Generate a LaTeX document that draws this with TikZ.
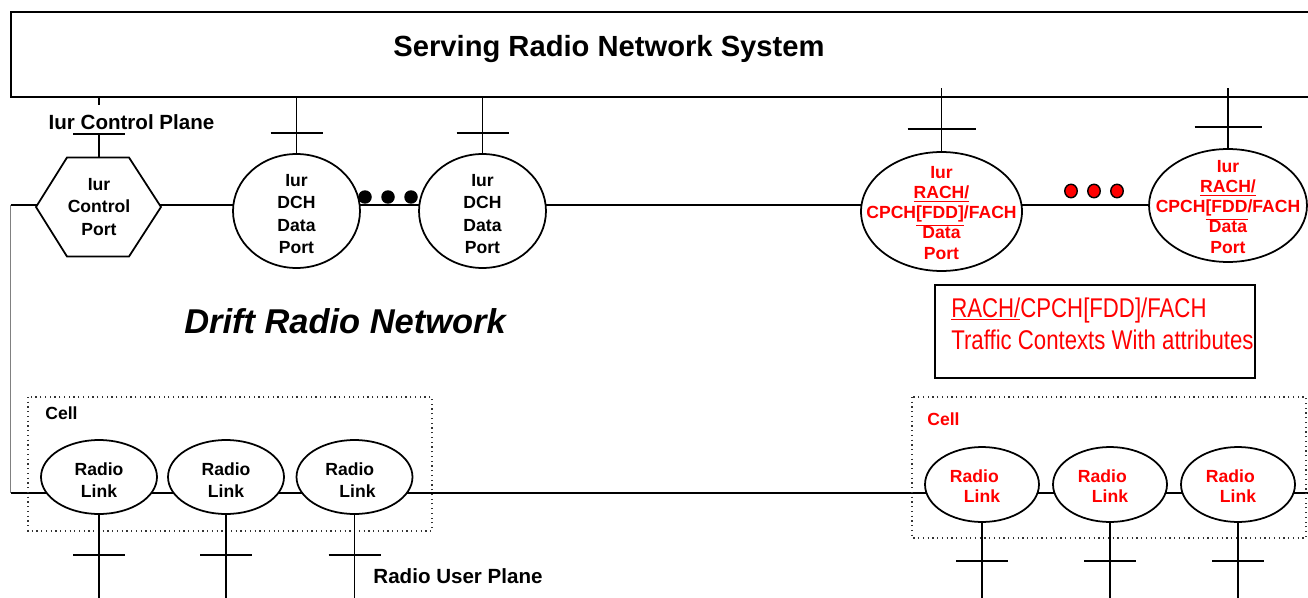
\documentclass[tikz,border=0pt]{standalone}
\usepackage{fontspec}
\setmainfont{Liberation Sans}
\newfontfamily\ctxfont[FakeStretch=0.82]{Liberation Sans}
\usetikzlibrary{shapes.geometric, calc}

\tikzset{
  wire/.style={line width=1pt},
  port/.style={draw, ellipse, line width=1pt, fill=white, inner sep=0pt},
  dchport/.style={port, minimum width=2.54cm, minimum height=2.28cm},
  rachport/.style={port, minimum width=3.22cm, minimum height=2.38cm},
  linkport/.style={port, minimum width=2.32cm, minimum height=1.48cm},
  rlinkport/.style={port, minimum width=2.28cm, minimum height=1.5cm},
  lbl/.style={font=\fontsize{10}{12.8}\selectfont\bfseries, align=center, inner sep=0pt},
  redlbl/.style={lbl, text=red, font=\fontsize{10}{11.4}\selectfont\bfseries},
  planelbl/.style={font=\fontsize{11.7}{14}\selectfont\bfseries, inner sep=0pt},
  moredot/.style={circle, fill=black, minimum size=0.27cm, inner sep=0pt},
  redmoredot/.style={ellipse, draw=black, line width=0.8pt, fill=red, minimum width=0.25cm, minimum height=0.27cm, inner sep=0pt},
  cellbox/.style={draw=black!80, dotted, line width=0.7pt},
}

\begin{document}
\begin{tikzpicture}[x=0.02cm, y=-0.02cm]
  \useasboundingbox (0,0) rectangle (1308,598);

  % Serving system
  \draw[line width=1.2pt] (10.7,12) rectangle (1320,97);
  \coordinate (boxbot) at (0,97);
  \coordinate (stubtop) at (0,88);
  \coordinate (bottom) at (0,600);
  \coordinate (barL) at (0,555);
  \coordinate (barR) at (0,561);
  \node[font=\fontsize{16.6}{20}\selectfont\bfseries, inner sep=0pt] (srns) at (609,49) {Serving Radio Network System};

  % Iur and radio lines
  \coordinate (mainW) at (10.7,205);
  \coordinate (mainE) at (1320,205);
  \coordinate (lowW) at (10.7,493);
  \coordinate (lowE) at (1320,493);
  \draw[wire] (mainW) -- (mainE);
  \draw[wire] (lowW) -- (lowE);
  \draw[gray, line width=0.6pt] (mainW) -- (lowW);

  % Control port
  \coordinate (ctlc) at (99,207);
  \draw[wire, fill=white] (ctlc) ++(-63,0) -- ++(31,-49.5) -- ++(62,0) -- ++(32,49.5)
    -- ++(-32,49.5) -- ++(-62,0) -- cycle;
  \node[lbl] (ctl) at (ctlc) {Iur\\Control\\Port};
  \coordinate (ctlN) at ($(ctlc)+(0,-49.5)$);
  \draw[wire] (ctlN) -- ++(0,-23.5);
  \draw[wire] ($(ctlN)+(-26,-23.5)$) -- ++(52,0);
  \draw[wire] (ctlN |- boxbot) -- ++(0,8);
  \node[planelbl] (cplane) at (131.5,122) {Iur Control Plane};

  % DCH data ports
  \node[dchport] (dch1) at (296.5,211) {};
  \node[dchport] (dch2) at (482.5,211) {};
  \node[lbl] (dch1t) at ($(dch1)+(0,3)$) {Iur\\DCH\\Data\\Port};
  \node[lbl] (dch2t) at ($(dch2)+(0,3)$) {Iur\\DCH\\Data\\Port};
  \foreach \p in {dch1,dch2} {
    \draw[wire] (\p.north) -- (\p.north |- boxbot);
    \draw[wire] ($(\p.north)+(-26,-20)$) -- ++(52,0);
  }
  \foreach \x/\n in {365/1,388/2,411/3}
    \node[moredot] (dd\n) at (\x,197) {};

  % RACH/CPCH/FACH data ports
  \node[rachport] (rach1) at (941.5,211.5) {};
  \node[port, minimum width=3.16cm, minimum height=2.26cm] (rach2) at (1228,205.5) {};
  \node[redlbl] (rach1t) at ($(rach1)+(0,1.5)$) {Iur\\\underline{RACH/}\\CPCH\underline{[FDD]}/FACH\\Data\\Port};
  \node[redlbl] (rach2t) at ($(rach2)+(0,1.5)$) {Iur\\\underline{RACH/}\\CPCH\underline{[FDD}/FACH\\Data\\Port};
  \draw[wire] (rach1.north) -- (rach1.north |- stubtop);
  \draw[wire] ($(rach1.north)+(-34,-22)$) -- ++(68,0);
  \draw[wire] (rach2.north) -- (rach2.north |- stubtop);
  \draw[wire] ($(rach2.north)+(-33.5,-21)$) -- ++(67,0);
  \foreach \x/\n in {1071/1,1094/2,1117/3}
    \node[redmoredot] (rd\n) at (\x,191) {};

  % traffic contexts
  \draw[line width=1.2pt] (935,285) rectangle (1255,378);
  \node[font=\ctxfont\fontsize{15.4}{18}\selectfont, text=red, anchor=base west, inner sep=0pt] (ctx1) at (951,317) {\underline{RACH/}CPCH[FDD]/FACH};
  \node[font=\ctxfont\fontsize{15.4}{18}\selectfont, text=red, anchor=base west, inner sep=0pt] (ctx2) at (951,349) {Traffic Contexts With attributes};

  \node[font=\fontsize{19.6}{24}\selectfont\bfseries\itshape, inner sep=0pt] (drn) at (345,321) {Drift Radio Network};

  % Cells
  \draw[cellbox] (28,397) rectangle (432,531);
  \node[lbl] (cellL) at (61.5,413) {Cell};
  \draw[cellbox] (912,397) rectangle (1306,538);
  \node[lbl, text=red] (cellR) at (943.5,419) {Cell};

  \node[linkport] (rl1) at (99,477) {};
  \node[linkport] (rl2) at (226,477) {};
  \node[linkport] (rl3) at (354.5,477) {};
  \node[lbl] (rl1t) at ($(rl1)+(0,3)$) {Radio\\Link};
  \node[lbl] (rl2t) at ($(rl2)+(0,3)$) {Radio\\Link};
  \node[lbl, align=left] (rl3t) at ($(rl3)+(-4,3)$) {Radio\\\hspace*{8pt}Link};

  \node[rlinkport] (rr1) at (982,484.5) {};
  \node[rlinkport] (rr2) at (1110,484.5) {};
  \node[rlinkport] (rr3) at (1238,484.5) {};
  \foreach \p in {rr1,rr2,rr3}
    \node[redlbl, align=left] (\p t) at ($(\p)+(-7,2)$) {Radio\\\hspace*{8pt}Link};

  \foreach \p in {rl1,rl2,rl3} {
    \draw[wire] (\p.south) -- (\p.south |- bottom);
    \draw[wire] ($(\p.south |- barL)+(-26,0)$) -- ++(52,0);
  }
  \foreach \p in {rr1,rr2,rr3} {
    \draw[wire] (\p.south) -- (\p.south |- bottom);
    \draw[wire] ($(\p.south |- barR)+(-26,0)$) -- ++(52,0);
  }
  \node[planelbl] (uplane) at (458,576) {Radio User Plane};
\end{tikzpicture}
\end{document}
